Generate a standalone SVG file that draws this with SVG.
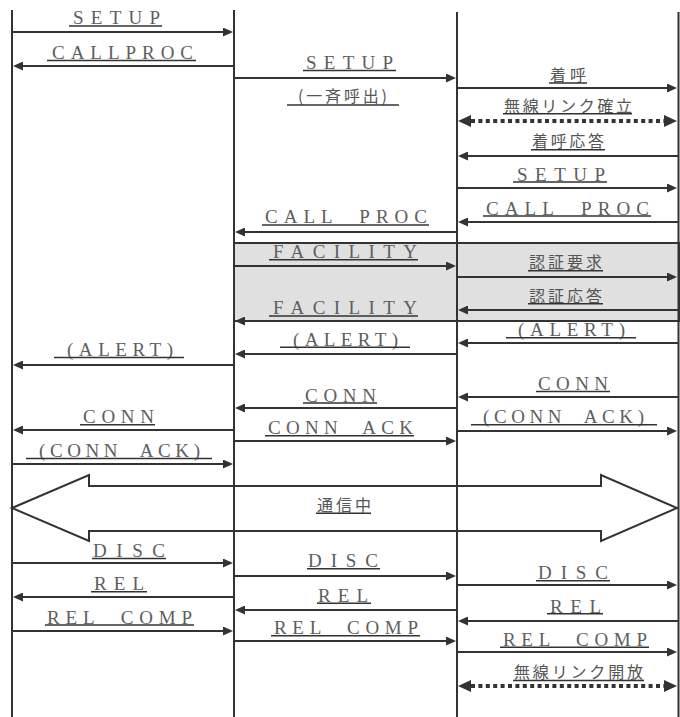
<svg xmlns="http://www.w3.org/2000/svg" width="680" height="717" viewBox="0 0 680 717">
<style>
.ll{stroke:#333;stroke-width:2}
.m{stroke:#333;stroke-width:2;fill:none}
.u{stroke:#333;stroke-width:1.5}
.d{stroke:#333;stroke-width:4;stroke-dasharray:4 3.4;fill:none}
.t{font-family:"Liberation Serif",serif;font-size:19px;fill:#5e5e5e;white-space:pre}
.j{font-family:"Noto Sans CJK JP",sans-serif;font-size:16px;fill:#555}
</style>
<defs>
<marker id="ah" viewBox="0 0 10 9" refX="0" refY="4.5" markerWidth="10" markerHeight="9" markerUnits="userSpaceOnUse" orient="auto"><path d="M0,0L10,4.5L0,9z" fill="#333"/></marker>
<marker id="dh" viewBox="0 0 13 12" refX="0" refY="6" markerWidth="13" markerHeight="12" markerUnits="userSpaceOnUse" orient="auto-start-reverse"><path d="M0,0L13,6L0,12z" fill="#333"/></marker>
</defs>
<rect width="680" height="717" fill="#fff"/>
<g id="auth-box"><rect x="234" y="243" width="445" height="78" fill="#e0e0e0" stroke="#333" stroke-width="2"/></g>
<g id="lifeline-1"><line class="ll" x1="12" y1="10" x2="12" y2="717"/></g>
<g id="lifeline-2"><line class="ll" x1="234" y1="10" x2="234" y2="717"/></g>
<g id="lifeline-3"><line class="ll" x1="457" y1="12" x2="457" y2="717"/></g>
<g id="lifeline-4"><line class="ll" x1="678.5" y1="12" x2="678.5" y2="717"/></g>
<g id="connectors" xml:space="preserve">
<!-- column A -->
<g><line class="m" x1="13" y1="32" x2="223" y2="32" marker-end="url(#ah)"/><text class="t" x="73" y="24" textLength="87">SETUP</text><line class="u" x1="69" y1="26" x2="162" y2="26"/></g>
<g><line class="m" x1="233" y1="66" x2="23" y2="66" marker-end="url(#ah)"/><text class="t" x="52" y="58.5" textLength="141">CALLPROC</text><line class="u" x1="47" y1="60.5" x2="196" y2="60.5"/></g>
<g><line class="m" x1="233" y1="365" x2="23" y2="365" marker-end="url(#ah)"/><text class="t" x="67" y="355.5" textLength="106">(ALERT)</text><line class="u" x1="54" y1="357.5" x2="184" y2="357.5"/></g>
<g><line class="m" x1="233" y1="430" x2="23" y2="430" marker-end="url(#ah)"/><text class="t" x="83" y="423" textLength="71">CONN</text><line class="u" x1="80" y1="424.8" x2="155" y2="424.8"/></g>
<g><line class="m" x1="13" y1="464" x2="223" y2="464" marker-end="url(#ah)"/><text class="t" x="39" y="456.5" textLength="161">(CONN  ACK)</text><line class="u" x1="26" y1="458.5" x2="212" y2="458.5"/></g>
<g><line class="m" x1="13" y1="563" x2="223" y2="563" marker-end="url(#ah)"/><text class="t" x="93" y="556.5" textLength="72">DISC</text><line class="u" x1="92" y1="558.5" x2="166" y2="558.5"/></g>
<g><line class="m" x1="233" y1="597" x2="23" y2="597" marker-end="url(#ah)"/><text class="t" x="94" y="590" textLength="50">REL</text><line class="u" x1="91" y1="591.8" x2="147" y2="591.8"/></g>
<g><line class="m" x1="13" y1="631" x2="223" y2="631" marker-end="url(#ah)"/><text class="t" x="47" y="623.5" textLength="145">REL  COMP</text><line class="u" x1="45" y1="625" x2="194" y2="625"/></g>
<!-- column B -->
<g><line class="m" x1="235" y1="78" x2="446" y2="78" marker-end="url(#ah)"/><text class="t" x="306" y="68.5" textLength="87">SETUP</text><line class="u" x1="303" y1="70.5" x2="396" y2="70.5"/></g>
<g><text class="j" x="298" y="102" textLength="89">(一斉呼出)</text><line class="u" x1="287" y1="105" x2="399" y2="105"/></g>
<g><line class="m" x1="456" y1="232" x2="245" y2="232" marker-end="url(#ah)"/><text class="t" x="265" y="223" textLength="162">CALL  PROC</text><line class="u" x1="262" y1="225" x2="429" y2="225"/></g>
<g><line class="m" x1="235" y1="266" x2="446" y2="266" marker-end="url(#ah)"/><text class="t" x="273" y="258" textLength="144">FACILITY</text><line class="u" x1="269" y1="259.8" x2="418" y2="259.8"/></g>
<g><line class="m" x1="456" y1="321" x2="245" y2="321" marker-end="url(#ah)"/><text class="t" x="273" y="314" textLength="144">FACILITY</text><line class="u" x1="269" y1="316" x2="418" y2="316"/></g>
<g><line class="m" x1="456" y1="354" x2="245" y2="354" marker-end="url(#ah)"/><text class="t" x="293" y="345.5" textLength="105">(ALERT)</text><line class="u" x1="280" y1="347.3" x2="410" y2="347.3"/></g>
<g><line class="m" x1="456" y1="408" x2="245" y2="408" marker-end="url(#ah)"/><text class="t" x="305" y="401.5" textLength="71">CONN</text><line class="u" x1="303" y1="403" x2="377" y2="403"/></g>
<g><line class="m" x1="235" y1="441" x2="446" y2="441" marker-end="url(#ah)"/><text class="t" x="268" y="434" textLength="145">CONN  ACK</text><line class="u" x1="265" y1="435.8" x2="414" y2="435.8"/></g>
<g><line class="m" x1="235" y1="576" x2="446" y2="576" marker-end="url(#ah)"/><text class="t" x="308" y="567" textLength="70">DISC</text><line class="u" x1="307" y1="568.8" x2="380" y2="568.8"/></g>
<g><line class="m" x1="456" y1="610" x2="245" y2="610" marker-end="url(#ah)"/><text class="t" x="318" y="601.5" textLength="50">REL</text><line class="u" x1="317" y1="603.3" x2="371" y2="603.3"/></g>
<g><line class="m" x1="235" y1="641" x2="446" y2="641" marker-end="url(#ah)"/><text class="t" x="274" y="634" textLength="144">REL  COMP</text><line class="u" x1="271" y1="635.8" x2="420" y2="635.8"/></g>
<!-- column C -->
<g><line class="m" x1="458" y1="88" x2="667" y2="88" marker-end="url(#ah)"/><text class="j" x="550" y="80.5" textLength="36">着呼</text><line class="u" x1="549" y1="83" x2="587" y2="83"/></g>
<g><line class="d" x1="471" y1="121" x2="664" y2="121" marker-start="url(#dh)" marker-end="url(#dh)"/><text class="j" x="504" y="111.5" textLength="128">無線リンク確立</text><line class="u" x1="503" y1="113.8" x2="632" y2="113.8"/></g>
<g><line class="m" x1="678" y1="156" x2="468" y2="156" marker-end="url(#ah)"/><text class="j" x="532" y="147" textLength="72">着呼応答</text><line class="u" x1="531" y1="149.7" x2="605" y2="149.7"/></g>
<g><line class="m" x1="458" y1="188" x2="667" y2="188" marker-end="url(#ah)"/><text class="t" x="517" y="180.5" textLength="88">SETUP</text><line class="u" x1="513" y1="182" x2="607" y2="182"/></g>
<g><line class="m" x1="678" y1="222" x2="468" y2="222" marker-end="url(#ah)"/><text class="t" x="486" y="214.5" textLength="163">CALL  PROC</text><line class="u" x1="483" y1="216" x2="651" y2="216"/></g>
<g><line class="m" x1="458" y1="277" x2="667" y2="277" marker-end="url(#ah)"/><text class="j" x="529" y="268" textLength="73">認証要求</text><line class="u" x1="528" y1="270.7" x2="603" y2="270.7"/></g>
<g><line class="m" x1="678" y1="310" x2="468" y2="310" marker-end="url(#ah)"/><text class="j" x="529" y="301.5" textLength="73">認証応答</text><line class="u" x1="528" y1="303.7" x2="603" y2="303.7"/></g>
<g><line class="m" x1="678" y1="343" x2="468" y2="343" marker-end="url(#ah)"/><text class="t" x="518" y="336" textLength="107">(ALERT)</text><line class="u" x1="506" y1="337.7" x2="636" y2="337.7"/></g>
<g><line class="m" x1="678" y1="397" x2="468" y2="397" marker-end="url(#ah)"/><text class="t" x="538" y="389.5" textLength="70">CONN</text><line class="u" x1="536" y1="391.5" x2="610" y2="391.5"/></g>
<g><line class="m" x1="458" y1="431" x2="667" y2="431" marker-end="url(#ah)"/><text class="t" x="483" y="423" textLength="161">(CONN  ACK)</text><line class="u" x1="471" y1="424.7" x2="657" y2="424.7"/></g>
<g><line class="m" x1="458" y1="585" x2="667" y2="585" marker-end="url(#ah)"/><text class="t" x="538" y="579" textLength="70">DISC</text><line class="u" x1="536" y1="580.7" x2="610" y2="580.7"/></g>
<g><line class="m" x1="678" y1="621" x2="468" y2="621" marker-end="url(#ah)"/><text class="t" x="550" y="612.5" textLength="51">REL</text><line class="u" x1="547" y1="613.8" x2="603" y2="613.8"/></g>
<g><line class="m" x1="458" y1="652" x2="667" y2="652" marker-end="url(#ah)"/><text class="t" x="503" y="646" textLength="144">REL  COMP</text><line class="u" x1="500" y1="647.3" x2="649" y2="647.3"/></g>
<g><line class="d" x1="471" y1="686" x2="664" y2="686" marker-start="url(#dh)" marker-end="url(#dh)"/><text class="j" x="514" y="678" textLength="129">無線リンク開放</text><line class="u" x1="513" y1="680.5" x2="644" y2="680.5"/></g>
<!-- communication double arrow -->
<g><polygon points="12,508 89,475 89,486 601,486 601,475 677,508 601,541 601,531 89,531 89,541" fill="none" stroke="#333" stroke-width="2" stroke-linejoin="miter"/><text class="j" x="317" y="510.5" textLength="54">通信中</text><line class="u" x1="316" y1="513.3" x2="371" y2="513.3"/></g>
</g>
</svg>
